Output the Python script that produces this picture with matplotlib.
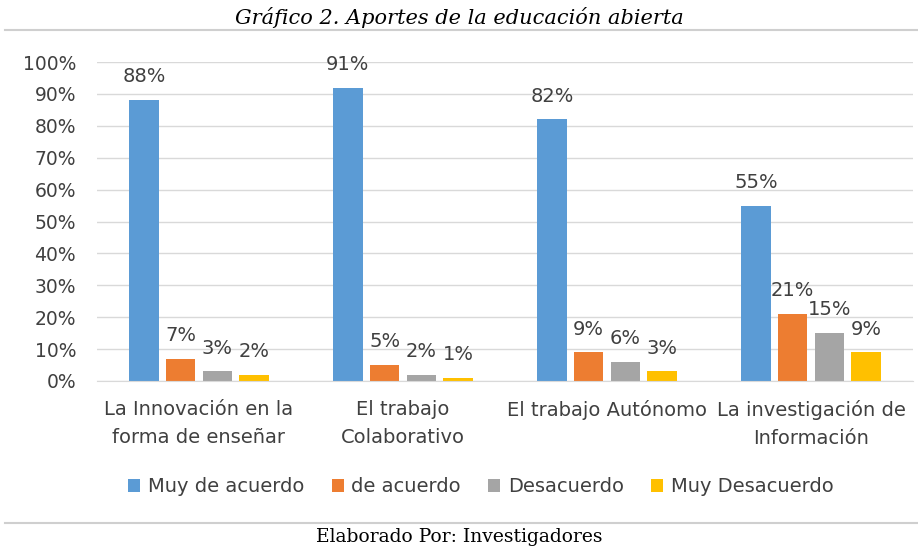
import matplotlib
matplotlib.use("Agg")
import matplotlib.pyplot as plt
import numpy as np

categories = ["La Innovación en la\nforma de enseñar", "El trabajo\nColaborativo",
              "El trabajo Autónomo", "La investigación de\nInformación"]
series = ["Muy de acuerdo", "de acuerdo", "Desacuerdo", "Muy Desacuerdo"]
muy_de_acuerdo = [88, 92, 82, 55]
de_acuerdo = [7, 5, 9, 21]
desacuerdo = [3, 2, 6, 15]
muy_desacuerdo = [2, 1, 3, 9]
labels_muy_de_acuerdo = ["88%", "91%", "82%", "55%"]
colors = ["#5b9bd5", "#ed7d31", "#a5a5a5", "#ffc000"]

plt.rcParams['font.family'] = ['DejaVu Sans']

fig = plt.figure(figsize=(9.18, 5.46), dpi=100)
ax = fig.add_axes([97 / 918, 1 - 381 / 546, 816 / 918, 319 / 546])

values = [muy_de_acuerdo, de_acuerdo, desacuerdo, muy_desacuerdo]
x = np.arange(len(categories))
step = 0.18
width = 0.143
for i, vals in enumerate(values):
    pos = x + (i - 1.5) * step
    ax.bar(pos, vals, width, color=colors[i], label=series[i], zorder=3)
    for j, v in enumerate(vals):
        txt = labels_muy_de_acuerdo[j] if i == 0 else f"{v}%"
        ax.text(pos[j], v + 7.3, txt, ha="center", va="center", fontsize=14,
                color="#404040")

ax.set_ylim(0, 100)
ax.set_xlim(-0.5, 3.5)
ax.set_yticks(range(0, 101, 10))
ax.set_yticklabels([f"{t}%" for t in range(0, 101, 10)], fontsize=13.5, color="#404040")
ax.set_xticks(x)
ax.set_xticklabels(categories, fontsize=14, color="#404040", linespacing=1.6)
ax.tick_params(axis="both", length=0)
ax.tick_params(axis="x", pad=14)
ax.tick_params(axis="y", pad=15)
ax.grid(axis="y", color="#d9d9d9", linewidth=1, zorder=0)
for s in ["top", "right", "left"]:
    ax.spines[s].set_visible(False)
ax.spines["bottom"].set_color("#d9d9d9")
ax.spines["bottom"].set_zorder(4)

fig.legend(loc="center", bbox_to_anchor=(481 / 918, 1 - 487 / 546), ncol=4, frameon=False,
           fontsize=14, handlelength=0.62, handleheight=0.62, columnspacing=1.4,
           handletextpad=0.4, labelcolor="#404040")

fig.text(0.5, 1 - 17 / 546, "Gráfico 2. Aportes de la educación abierta", ha="center",
         va="center", family="DejaVu Serif", style="italic", fontsize=15)
fig.add_artist(plt.Line2D([5 / 918, 1], [1 - 30 / 546] * 2, color="#cfcfcf", lw=1.5))
fig.add_artist(plt.Line2D([5 / 918, 1], [1 - 523 / 546] * 2, color="#cfcfcf", lw=1.5))
fig.text(0.5, 1 - 537 / 546, "Elaborado Por: Investigadores", ha="center", va="center",
         family="DejaVu Serif", fontsize=13.5)

fig.savefig("out.png", dpi=100, facecolor="white")
